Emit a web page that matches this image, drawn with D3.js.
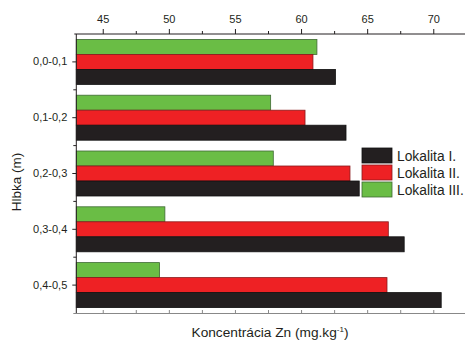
<!DOCTYPE html>
<html><head><meta charset="utf-8">
<script src="https://cdn.jsdelivr.net/npm/d3@7"></script>
<style>body{margin:0;background:#fff}svg{display:block;font-family:"Liberation Sans",Arial,sans-serif}</style>
</head><body><svg id="c" width="465" height="342"></svg>
<script>
const categories = ["0,0-0,1","0,1-0,2","0,2-0,3","0,3-0,4","0,4-0,5"];
const seriesNames = ["Lokalita I.","Lokalita II.","Lokalita III."];
const lokalitaI = [62.6, 63.4, 64.4, 67.8, 70.6];
const lokalitaII = [60.9, 60.3, 63.7, 66.6, 66.5];
const lokalitaIII = [61.2, 57.7, 57.9, 49.7, 49.3];
const xTicks = [45, 50, 55, 60, 65, 70];
const xMinorTicks = [47.5, 52.5, 57.5, 62.5, 67.5, 72.5];
const fills = ["#231f20", "#ee2124", "#6abd45"];
const strokes = ["#111", "#8a1a1c", "#3f6a34"];
const seriesValues = [lokalitaI, lokalitaII, lokalitaIII];

(function () {
const svg = d3.select("#c");
const L = 76.3, R = 465, T = 34, B = 313;
const x = d3.scaleLinear().domain([43, 72.4]).range([L, R]);
const y0 = d3.scaleBand().domain(categories).range([T, B]);
const y1 = d3.scaleBand().domain([2, 1, 0]).range([0, y0.bandwidth()]).paddingOuter(0.36);

const g = svg.append("g");
categories.forEach((c, ci) => {
  [2, 1, 0].forEach(si => {
    const v = seriesValues[si][ci];
    g.append("rect")
      .attr("x", L).attr("y", y0(c) + y1(si))
      .attr("width", x(v) - L).attr("height", y1.bandwidth())
      .attr("fill", fills[si]).attr("stroke", strokes[si]).attr("stroke-width", 0.8);
  });
});

const topAx = svg.append("g").attr("transform", `translate(0,${T})`)
  .call(d3.axisTop(x).tickValues(xTicks).tickSize(5).tickSizeOuter(0).tickFormat(d3.format("d")));
topAx.select(".domain").attr("stroke", "#231f20").attr("d", `M${L-2},0H${R}`);
topAx.selectAll(".tick line").attr("stroke", "#231f20");
topAx.selectAll(".tick text").attr("font-size", 11).attr("fill", "#231f20").attr("font-family", "Liberation Sans, Arial").attr("y", -11);
svg.append("g").attr("transform", `translate(0,${T})`)
  .call(d3.axisTop(x).tickValues(xMinorTicks).tickSize(3).tickFormat(""))
  .call(s => s.select(".domain").remove())
  .selectAll(".tick line").attr("stroke", "#231f20");

const bot = svg.append("g").attr("transform", `translate(0,${B})`)
  .call(d3.axisBottom(x).tickValues(xTicks.concat(xMinorTicks)).tickSize(-3).tickSizeOuter(0).tickFormat(""));
bot.select(".domain").attr("stroke", "#888").attr("d", `M${L-3},0.5H${R}`);
bot.selectAll(".tick line").attr("stroke", "#888");

const leftAx = svg.append("g").attr("transform", `translate(${L},0)`)
  .call(d3.axisLeft(y0).tickSize(4).tickSizeOuter(0));
leftAx.select(".domain").attr("stroke", "#231f20").attr("d", `M0,${T}V${B}`);
leftAx.selectAll(".tick line").attr("stroke", "#231f20");
leftAx.selectAll(".tick text").attr("font-size", 11).attr("fill", "#231f20").attr("font-family", "Liberation Sans, Arial").attr("x", -9);
svg.append("g").selectAll("line").data(categories.slice(1)).join("line")
  .attr("x1", L - 3).attr("x2", L).attr("y1", d => y0(d)).attr("y2", d => y0(d))
  .attr("stroke", "#231f20");

svg.append("text").attr("transform", `translate(21,182) rotate(-90)`)
  .attr("text-anchor", "middle").attr("font-size", 13.5).attr("fill", "#231f20").text("Hlbka (m)");
const xt = svg.append("text").attr("x", 270).attr("y", 337).attr("text-anchor", "middle")
  .attr("font-size", 13.7).attr("fill", "#231f20");
xt.append("tspan").text("Koncentrácia Zn (mg.kg");
xt.append("tspan").attr("dy", -5).attr("font-size", 8).text("-1");
xt.append("tspan").attr("dy", 5).text(")");

const lg = svg.append("g").attr("transform", "translate(362,148)");
seriesNames.forEach((n, i) => {
  const row = lg.append("g").attr("transform", `translate(0,${i * 17})`);
  row.append("rect").attr("width", 30).attr("height", 15)
    .attr("fill", fills[i]).attr("stroke", strokes[i]).attr("stroke-width", 0.8);
  row.append("text").attr("x", 35).attr("y", 12.5).attr("font-size", 13.8).attr("fill", "#231f20").text(n);
});
})();
</script></body></html>
